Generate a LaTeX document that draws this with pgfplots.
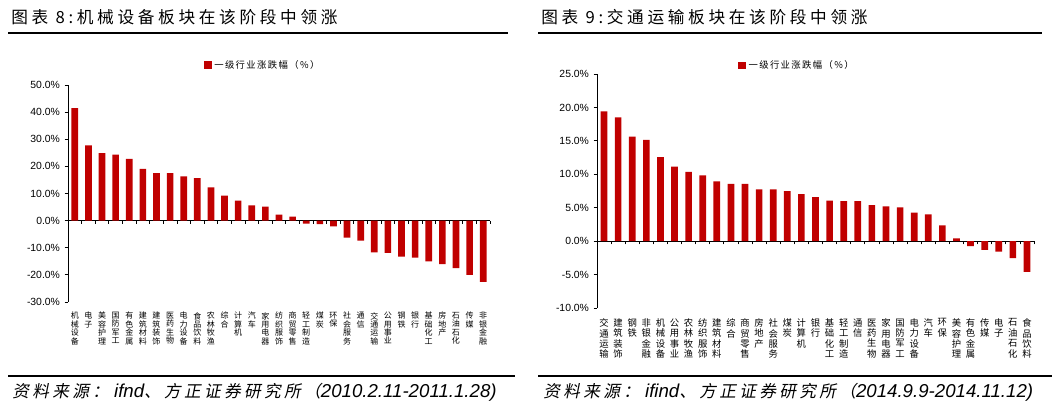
\documentclass[border=0pt]{standalone}
\usepackage{fontspec}
\setmainfont{Liberation Sans}
\newfontfamily\cjk{Noto Sans CJK SC}
\newfontfamily\cjktitle[LetterSpace=22]{Noto Sans CJK SC}
\newfontfamily\cjksrc[FakeSlant=0.2,LetterSpace=20]{Noto Sans CJK SC}
\newfontfamily\cjklg[LetterSpace=15]{Noto Sans CJK SC}
\usepackage{pgfplots}
\usepackage{pgfplotstable}
\pgfplotsset{compat=1.18}
\definecolor{barred}{RGB}{192,0,0}

% 2010.2.11-2011.1.28
\pgfplotstableread{
x y
1 41.5
2 27.7
3 24.9
4 24.3
5 22.8
6 19.1
7 17.5
8 17.5
9 16.3
10 15.7
11 12.3
12 9.2
13 7.4
14 5.6
15 5.2
16 2.2
17 1.5
18 -1.1
19 -1.3
20 -2.1
21 -6.3
22 -7.4
23 -11.7
24 -11.9
25 -13.3
26 -13.6
27 -15.0
28 -16.0
29 -17.5
30 -20.0
31 -22.6
}\leftdata

% 2014.9.9-2014.11.12
\pgfplotstableread{
x y
1 19.4
2 18.5
3 15.65
4 15.15
5 12.55
6 11.15
7 10.35
8 9.85
9 8.95
10 8.55
11 8.55
12 7.75
13 7.75
14 7.5
15 7.05
16 6.6
17 6.05
18 6.0
19 6.0
20 5.4
21 5.2
22 5.05
23 4.25
24 4.0
25 2.35
26 0.4
27 -0.75
28 -1.3
29 -1.55
30 -2.55
31 -4.6
}\rightdata

\pgfplotsset{
  zfbar/.style={
    scale only axis,
    ybar, bar width=5pt,
    axis y line=left, axis x line=middle,
    axis line style={-, black, line width=0.6pt},
    hide obscured x ticks=false, hide obscured y ticks=false,
    xmin=0.5, xmax=31.5,
    xtick={1.5,2.5,...,31.5}, xticklabels={},
    tick align=outside,
    major tick length=2.5pt,
    tick style={black, line width=0.6pt},
    extra x ticks={1,2,...,31},
    y tick label style={font=\fontsize{7.8}{8}\selectfont},
    yticklabel={\pgfmathprintnumber[fixed,fixed zerofill,precision=1]{\tick}\%},
    /pgf/number format/assume math mode=true,
    legend style={draw=none, fill=none, inner sep=0pt, anchor=west,
      font=\cjklg\fontsize{7}{8}\selectfont,
      /tikz/every even column/.append style={column sep=0pt}},
    legend image code/.code={\fill[barred] (0pt,-2.7pt) rectangle (5.6pt,2.7pt);},
    clip=false,
  }
}

\begin{document}
\begin{tikzpicture}
\path (0,0) rectangle ({1064*0.75pt},{-414*0.75pt});

% ---- left panel
\node[anchor=west, inner sep=0pt] at ({11*0.75pt},{-17*0.75pt})
  {\cjktitle\fontsize{12.5}{14}\selectfont 图表 8:机械设备板块在该阶段中领涨};
\draw[line width=1.5pt] ({8*0.75pt},{-33*0.75pt}) -- ({508*0.75pt},{-33*0.75pt});

\begin{axis}[zfbar,
  at={({68*0.75pt},{-85*0.75pt})}, anchor=north west,
  width={422*0.75pt}, height={217*0.75pt},
  ymin=-30, ymax=50, ytick={-30,-20,...,50},
  legend style={at={(0.322,1.092)}},
  extra x tick labels={机\\械\\设\\备, 电\\子, 美\\容\\护\\理, 国\\防\\军\\工, 有\\色\\金\\属,
    建\\筑\\材\\料, 建\\筑\\装\\饰, 医\\药\\生\\物, 电\\力\\设\\备, 食\\品\\饮\\料,
    农\\林\\牧\\渔, 综\\合, 计\\算\\机, 汽\\车, 家\\用\\电\\器, 纺\\织\\服\\饰,
    商\\贸\\零\\售, 轻\\工\\制\\造, 煤\\炭, 环\\保, 社\\会\\服\\务, 通\\信,
    交\\通\\运\\输, 公\\用\\事\\业, 钢\\铁, 银\\行, 基\\础\\化\\工, 房\\地\\产,
    石\\油\\石\\化, 传\\媒, 非\\银\\金\\融},
  extra x tick style={major tick length=0pt,
    xticklabel style={anchor=north, yshift=-68.5pt, align=center, inner sep=0pt,
      font=\cjk\fontsize{6}{6.3}\selectfont}},
]
\addplot[fill=barred, draw=none] table[x=x, y=y] {\leftdata};
\addlegendentry{一级行业涨跌幅（\%）}
\end{axis}

\draw[line width=1.5pt] ({8*0.75pt},{-376*0.75pt}) -- ({515*0.75pt},{-376*0.75pt});
\node[anchor=west, inner sep=0pt] at ({12*0.75pt},{-392*0.75pt})
  {{\cjksrc\fontsize{12.5}{14}\selectfont 资料来源：}{\fontsize{14}{14}\selectfont\itshape\ ifnd}{\cjksrc\fontsize{12.5}{14}\selectfont 、方正证券研究所（}{\fontsize{14}{14}\selectfont\itshape 2010.2.11-2011.1.28)}};

% ---- right panel
\node[anchor=west, inner sep=0pt] at ({541*0.75pt},{-17*0.75pt})
  {\cjktitle\fontsize{12.5}{14}\selectfont 图表 9:交通运输板块在该阶段中领涨};
\draw[line width=1.5pt] ({538*0.75pt},{-33*0.75pt}) -- ({1042*0.75pt},{-33*0.75pt});

\begin{axis}[zfbar,
  at={({597*0.75pt},{-74*0.75pt})}, anchor=north west,
  width={437*0.75pt}, height={234*0.75pt},
  ymin=-10, ymax=25, ytick={-10,-5,...,25},
  legend style={at={(0.323,1.038)}},
  extra x tick labels={交\\通\\运\\输, 建\\筑\\装\\饰, 钢\\铁, 非\\银\\金\\融, 机\\械\\设\\备,
    公\\用\\事\\业, 农\\林\\牧\\渔, 纺\\织\\服\\饰, 建\\筑\\材\\料, 综\\合,
    商\\贸\\零\\售, 房\\地\\产, 社\\会\\服\\务, 煤\\炭, 计\\算\\机, 银\\行,
    基\\础\\化\\工, 轻\\工\\制\\造, 通\\信, 医\\药\\生\\物, 家\\用\\电\\器,
    国\\防\\军\\工, 电\\力\\设\\备, 汽\\车, 环\\保, 美\\容\\护\\理, 有\\色\\金\\属,
    传\\媒, 电\\子, 石\\油\\石\\化, 食\\品\\饮\\料},
  extra x tick style={major tick length=0pt,
    xticklabel style={anchor=north, yshift=-58pt, align=center, inner sep=0pt,
      font=\cjk\fontsize{7}{7.8}\selectfont}},
]
\addplot[fill=barred, draw=none] table[x=x, y=y] {\rightdata};
\addlegendentry{一级行业涨跌幅（\%）}
\end{axis}

\draw[line width=1.5pt] ({538*0.75pt},{-376*0.75pt}) -- ({1052*0.75pt},{-376*0.75pt});
\node[anchor=west, inner sep=0pt] at ({543*0.75pt},{-392*0.75pt})
  {{\cjksrc\fontsize{12.5}{14}\selectfont 资料来源：}{\fontsize{14}{14}\selectfont\itshape\ ifind}{\cjksrc\fontsize{12.5}{14}\selectfont 、方正证券研究所（}{\fontsize{14}{14}\selectfont\itshape 2014.9.9-2014.11.12)}};
\end{tikzpicture}
\end{document}
